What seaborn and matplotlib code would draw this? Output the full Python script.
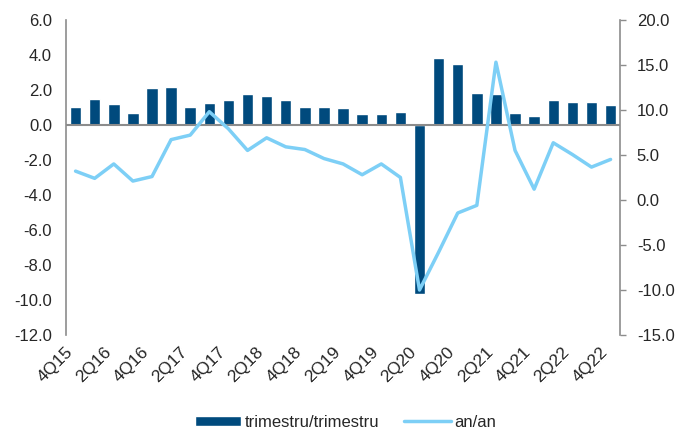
import matplotlib
matplotlib.use("Agg")
import matplotlib.pyplot as plt
import matplotlib.ticker as mticker
import matplotlib.transforms as mtransforms
import numpy as np
import pandas as pd
import seaborn as sns

sns.set_style("white")
plt.rcParams['font.family'] = ['Liberation Sans', 'DejaVu Sans']
plt.rcParams['font.size'] = 12

# quarters 4Q15 .. 4Q22
quarters = ["4Q15",
            "1Q16", "2Q16", "3Q16", "4Q16",
            "1Q17", "2Q17", "3Q17", "4Q17",
            "1Q18", "2Q18", "3Q18", "4Q18",
            "1Q19", "2Q19", "3Q19", "4Q19",
            "1Q20", "2Q20", "3Q20", "4Q20",
            "1Q21", "2Q21", "3Q21", "4Q21",
            "1Q22", "2Q22", "3Q22", "4Q22"]

# quarter on quarter (left axis)
qoq = [1.0, 1.46, 1.22, 0.68, 2.13, 2.18, 1.0, 1.25, 1.44, 1.77, 1.63, 1.41, 1.0,
       1.03, 0.95, 0.63, 0.64, 0.76, -9.65, 3.80, 3.48, 1.80, 1.75, 0.67, 0.53,
       1.44, 1.31, 1.31, 1.16]

# year on year (right axis)
yoy = [3.2, 2.4, 4.0, 2.1, 2.6, 6.7, 7.2, 9.8, 7.9, 5.5, 6.9, 5.9, 5.6,
       4.6, 4.0, 2.8, 4.0, 2.5, -10.0, -5.8, -1.45, -0.6, 15.3, 5.5, 1.2,
       6.35, 5.05, 3.65, 4.5]

bar_color = "#004A7D"
line_color = "#7DCFF6"

df = pd.DataFrame({"quarter": quarters, "qoq": qoq, "yoy": yoy})
df["pos"] = np.arange(len(df))

fig = plt.figure(figsize=(6.77, 4.32), dpi=100)
ax = fig.add_axes([0.0975, 0.2245, 0.8185, 0.7295])

sns.barplot(data=df, x="quarter", y="qoq", order=quarters, color=bar_color,
            width=0.6, saturation=1, ax=ax, label="trimestru/trimestru")
ax.axhline(0, color="#8c8c8c", lw=1.5, zorder=3)

ax2 = ax.twinx()
sns.lineplot(data=df, x="pos", y="yoy", color=line_color, lw=2.5, ax=ax2,
             label="an/an", legend=False)

ax.set_xlim(-0.5, len(quarters) - 0.5)
ax.set_ylim(-12, 6)
ax.yaxis.set_major_locator(mticker.MultipleLocator(2))
ax.yaxis.set_major_formatter(mticker.FormatStrFormatter("%.1f"))
ax2.set_ylim(-15, 20)
ax2.yaxis.set_major_locator(mticker.MultipleLocator(5))
ax2.yaxis.set_major_formatter(mticker.FormatStrFormatter("%.1f"))

ax.set_xticks(range(0, len(quarters), 2))
ax.set_xticklabels(quarters[::2], rotation=45, ha="right", fontsize=12.5)
shift = mtransforms.ScaledTranslation(0.05, 0, fig.dpi_scale_trans)
for lab in ax.get_xticklabels():
    lab.set_transform(lab.get_transform() + shift)
ax.tick_params(axis="x", length=0, pad=7)
ax.tick_params(axis="y", length=0, pad=10, labelsize=12)
ax2.tick_params(axis="y", length=4, width=1, color="#8c8c8c", pad=8, labelsize=12)

ax.set_xlabel("")
ax.set_ylabel("")
ax2.set_xlabel("")
ax2.set_ylabel("")

for a in (ax, ax2):
    for s in ("top", "bottom"):
        a.spines[s].set_visible(False)
    for s in ("left", "right"):
        a.spines[s].set_color("#8c8c8c")
        a.spines[s].set_linewidth(1.2)
ax.spines["right"].set_visible(False)
ax2.spines["left"].set_visible(False)

h1, l1 = ax.get_legend_handles_labels()
h2, l2 = ax2.get_legend_handles_labels()
if ax.get_legend() is not None:
    ax.get_legend().remove()
fig.legend(h1 + h2, l1 + l2, loc="center", bbox_to_anchor=(0.51, 0.022), ncol=2,
           frameon=False, handlelength=2.8, handleheight=0.6, columnspacing=1.5,
           handletextpad=0.2, fontsize=12)

plt.savefig("out.png", dpi=100)
